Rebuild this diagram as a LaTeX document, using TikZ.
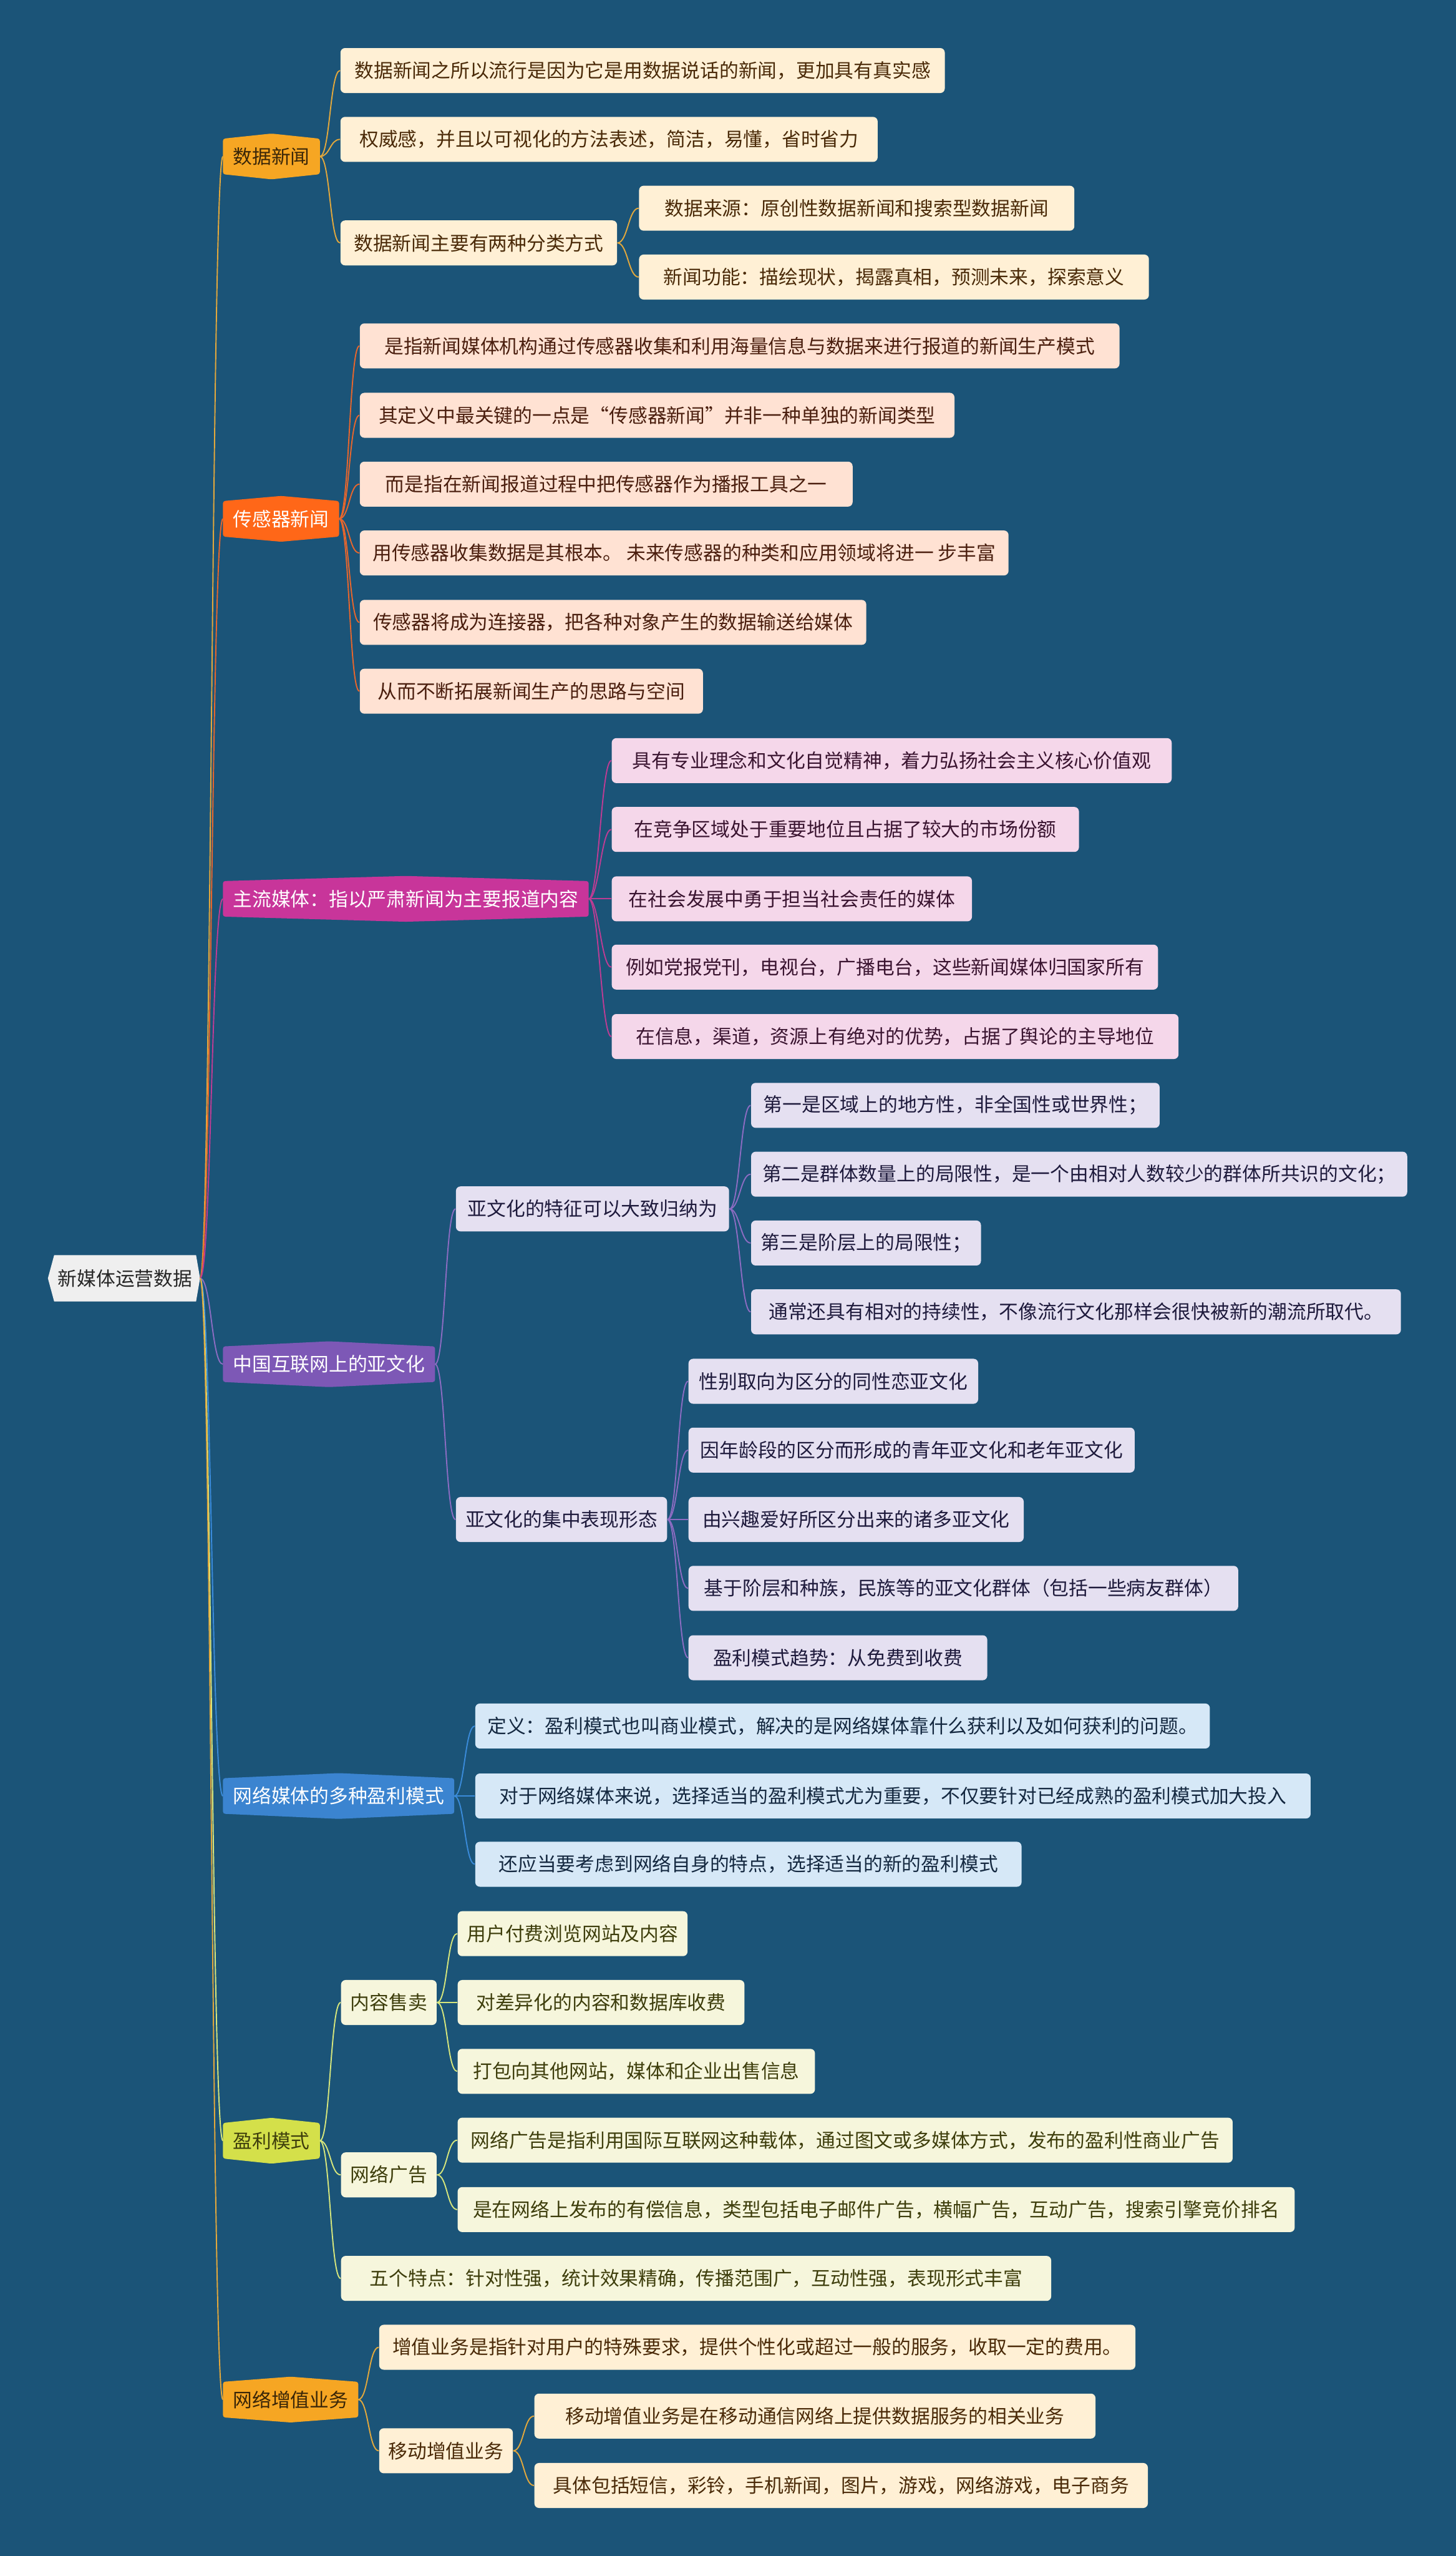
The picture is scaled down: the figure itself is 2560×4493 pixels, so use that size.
\documentclass[tikz,border=0pt]{standalone}
\usepackage{fontspec}
\setmainfont{Noto Sans CJK SC}
\usepackage{tikz}
\usetikzlibrary{
  backgrounds
}
\definecolor{mapBg}{HTML}{1B5478}
\definecolor{mapRootFill}{HTML}{EFEFEF}
\definecolor{mapRootText}{HTML}{262626}
\definecolor{mapGold}{HTML}{F6A623}
\definecolor{mapGoldLine}{HTML}{E3A83C}
\definecolor{mapGoldText}{HTML}{3A2608}
\definecolor{mapCream}{HTML}{FFF0D5}
\definecolor{mapCreamText}{HTML}{4A2A08}
\definecolor{mapRed}{HTML}{FF6718}
\definecolor{mapRedLine}{HTML}{E8662C}
\definecolor{mapPeach}{HTML}{FFE2D3}
\definecolor{mapPeachText}{HTML}{4A1E0E}
\definecolor{mapMagenta}{HTML}{C8359A}
\definecolor{mapMagentaLine}{HTML}{BE3C94}
\definecolor{mapRose}{HTML}{F5D7EA}
\definecolor{mapRoseText}{HTML}{3A1430}
\definecolor{mapPurple}{HTML}{7D58B6}
\definecolor{mapPurpleLine}{HTML}{8C6CC2}
\definecolor{mapLilac}{HTML}{E5E0F1}
\definecolor{mapLilacText}{HTML}{1E1A3C}
\definecolor{mapBlue}{HTML}{3B84D0}
\definecolor{mapBlueLine}{HTML}{3A8BDA}
\definecolor{mapSky}{HTML}{D6E8F7}
\definecolor{mapSkyText}{HTML}{142840}
\definecolor{mapLime}{HTML}{D4E04A}
\definecolor{mapLimeLine}{HTML}{D6E67C}
\definecolor{mapIvory}{HTML}{F6F6DC}
\definecolor{mapLimeText}{HTML}{3E3E0C}
\newcommand{\mapFont}{\fontsize{9.6pt}{11pt}\selectfont}
\tikzset{
  mapRoot/.style={
    minimum width=2.48cm,
    minimum height=0.8cm,
    inner sep=0pt,
    text=mapRootText,
    font=\mapFont
  },
  mapTopic/.style={
    anchor=west,
    minimum height=0.61cm,
    inner xsep=0.17cm,
    inner ysep=0pt,
    font=\mapFont
  },
  mapLeaf/.style={
    anchor=west,
    rounded corners=0.08cm,
    minimum height=0.79cm,
    inner xsep=0.16cm,
    inner ysep=0pt,
    font=\mapFont
  },
  goldLeaf/.style={mapLeaf, fill=mapCream, text=mapCreamText},
  redLeaf/.style={mapLeaf, fill=mapPeach, text=mapPeachText},
  roseLeaf/.style={mapLeaf, fill=mapRose, text=mapRoseText},
  lilacLeaf/.style={mapLeaf, fill=mapLilac, text=mapLilacText},
  skyLeaf/.style={mapLeaf, fill=mapSky, text=mapSkyText},
  ivoryLeaf/.style={mapLeaf, fill=mapIvory, text=mapLimeText},
  mapLink/.style={line width=0.6pt}
}

\begin{document}
\begin{tikzpicture}[x=0.01cm,y=-0.01cm]
  \useasboundingbox (0,0) rectangle (2560,4493);

  % root and main topics
  \node[mapRoot] (root) at (220,2247) {新媒体运营数据};
  \coordinate (rootTip) at ([xshift=0.07cm]root.east);

  \node[mapTopic, text=mapGoldText] (t1) at (392,275) {数据新闻};
  \node[mapTopic, text=white] (t2) at (392,912) {传感器新闻};
  \node[mapTopic, text=white] (t3) at (392,1580) {主流媒体：指以严肃新闻为主要报道内容};
  \node[mapTopic, text=white] (t4) at (392,2398) {中国互联网上的亚文化};
  \node[mapTopic, text=white] (t5) at (392,3157) {网络媒体的多种盈利模式};
  \node[mapTopic, text=mapLimeText] (t6) at (392,3763) {盈利模式};
  \node[mapTopic, text=mapGoldText] (t7) at (392,4218) {网络增值业务};

  % 数据新闻
  \node[goldLeaf, minimum width=10.62cm] (dn1) at (598,124) {数据新闻之所以流行是因为它是用数据说话的新闻，更加具有真实感};
  \node[goldLeaf, minimum width=9.44cm] (dn2) at (598,245) {权威感，并且以可视化的方法表述，简洁，易懂，省时省力};
  \node[goldLeaf, minimum width=4.86cm] (dn3) at (598,427) {数据新闻主要有两种分类方式};
  \node[goldLeaf, minimum width=7.65cm] (dn3a) at (1123,366) {数据来源：原创性数据新闻和搜索型数据新闻};
  \node[goldLeaf, minimum width=8.96cm] (dn3b) at (1123,487) {新闻功能：描绘现状，揭露真相，预测未来，探索意义};

  % 传感器新闻
  \node[redLeaf, minimum width=13.35cm] (sn1) at (632,608) {是指新闻媒体机构通过传感器收集和利用海量信息与数据来进行报道的新闻生产模式};
  \node[redLeaf, minimum width=10.45cm] (sn2) at (632,730) {其定义中最关键的一点是“传感器新闻”并非一种单独的新闻类型};
  \node[redLeaf, minimum width=8.66cm] (sn3) at (632,851) {而是指在新闻报道过程中把传感器作为播报工具之一};
  \node[redLeaf, minimum width=11.40cm] (sn4) at (632,972) {用传感器收集数据是其根本。 未来传感器的种类和应用领域将进一 步丰富};
  \node[redLeaf, minimum width=8.90cm] (sn5) at (632,1094) {传感器将成为连接器，把各种对象产生的数据输送给媒体};
  \node[redLeaf, minimum width=6.03cm] (sn6) at (632,1215) {从而不断拓展新闻生产的思路与空间};

  % 主流媒体
  \node[roseLeaf, minimum width=9.84cm] (mm1) at (1075,1337) {具有专业理念和文化自觉精神，着力弘扬社会主义核心价值观};
  \node[roseLeaf, minimum width=8.21cm] (mm2) at (1075,1458) {在竞争区域处于重要地位且占据了较大的市场份额};
  \node[roseLeaf, minimum width=6.33cm] (mm3) at (1075,1580) {在社会发展中勇于担当社会责任的媒体};
  \node[roseLeaf, minimum width=9.60cm] (mm4) at (1075,1700) {例如党报党刊，电视台，广播电台，这些新闻媒体归国家所有};
  \node[roseLeaf, minimum width=9.96cm] (mm5) at (1075,1822) {在信息，渠道，资源上有绝对的优势，占据了舆论的主导地位};

  % 亚文化
  \node[lilacLeaf, minimum width=4.80cm] (sc1) at (801,2125) {亚文化的特征可以大致归纳为};
  \node[lilacLeaf, minimum width=7.18cm] (sc1a) at (1320,1943) {第一是区域上的地方性，非全国性或世界性；};
  \node[lilacLeaf, minimum width=11.53cm] (sc1b) at (1320,2064) {第二是群体数量上的局限性，是一个由相对人数较少的群体所共识的文化；};
  \node[lilacLeaf, minimum width=4.04cm] (sc1c) at (1320,2185) {第三是阶层上的局限性；};
  \node[lilacLeaf, minimum width=11.42cm] (sc1d) at (1320,2306) {通常还具有相对的持续性，不像流行文化那样会很快被新的潮流所取代。};
  \node[lilacLeaf, minimum width=3.71cm] (sc2) at (801,2671) {亚文化的集中表现形态};
  \node[lilacLeaf, minimum width=5.09cm] (sc2a) at (1210,2428) {性别取向为区分的同性恋亚文化};
  \node[lilacLeaf, minimum width=7.84cm] (sc2b) at (1210,2549) {因年龄段的区分而形成的青年亚文化和老年亚文化};
  \node[lilacLeaf, minimum width=5.89cm] (sc2c) at (1210,2671) {由兴趣爱好所区分出来的诸多亚文化};
  \node[lilacLeaf, minimum width=9.66cm] (sc2d) at (1210,2792) {基于阶层和种族，民族等的亚文化群体（包括一些病友群体）};
  \node[lilacLeaf, minimum width=5.25cm] (sc2e) at (1210,2914) {盈利模式趋势：从免费到收费};

  % 网络媒体的多种盈利模式
  \node[skyLeaf, minimum width=12.91cm] (pm1) at (835,3034) {定义：盈利模式也叫商业模式，解决的是网络媒体靠什么获利以及如何获利的问题。};
  \node[skyLeaf, minimum width=14.68cm] (pm2) at (835,3157) {对于网络媒体来说，选择适当的盈利模式尤为重要，不仅要针对已经成熟的盈利模式加大投入};
  \node[skyLeaf, minimum width=9.60cm] (pm3) at (835,3277) {还应当要考虑到网络自身的特点，选择适当的新的盈利模式};

  % 盈利模式
  \node[ivoryLeaf, minimum width=1.68cm] (pr1) at (599,3520) {内容售卖};
  \node[ivoryLeaf, minimum width=4.04cm] (pr1a) at (804,3399) {用户付费浏览网站及内容};
  \node[ivoryLeaf, minimum width=5.04cm] (pr1b) at (804,3520) {对差异化的内容和数据库收费};
  \node[ivoryLeaf, minimum width=6.28cm] (pr1c) at (804,3641) {打包向其他网站，媒体和企业出售信息};
  \node[ivoryLeaf, minimum width=1.68cm] (pr2) at (599,3823) {网络广告};
  \node[ivoryLeaf, minimum width=13.62cm] (pr2a) at (804,3762) {网络广告是指利用国际互联网这种载体，通过图文或多媒体方式，发布的盈利性商业广告};
  \node[ivoryLeaf, minimum width=14.71cm] (pr2b) at (804,3884) {是在网络上发布的有偿信息，类型包括电子邮件广告，横幅广告，互动广告，搜索引擎竞价排名};
  \node[ivoryLeaf, minimum width=12.48cm] (pr3) at (599,4005) {五个特点：针对性强，统计效果精确，传播范围广，互动性强，表现形式丰富};

  % 网络增值业务
  \node[goldLeaf, minimum width=13.29cm] (va1) at (666,4126) {增值业务是指针对用户的特殊要求，提供个性化或超过一般的服务，收取一定的费用。};
  \node[goldLeaf, minimum width=2.35cm] (va2) at (666,4308) {移动增值业务};
  \node[goldLeaf, minimum width=9.86cm] (va2a) at (939,4247) {移动增值业务是在移动通信网络上提供数据服务的相关业务};
  \node[goldLeaf, minimum width=10.78cm] (va2b) at (939,4369) {具体包括短信，彩铃，手机新闻，图片，游戏，网络游戏，电子商务};

  % connectors
  \foreach \n/\col in {t1/mapGoldLine, t2/mapRedLine, t3/mapMagentaLine, t4/mapPurpleLine,
                       t5/mapBlueLine, t6/mapLimeLine, t7/mapGoldLine}
    \draw[mapLink, \col] (rootTip) .. controls +(20,0) and +(-20,0) .. (\n.west);

  \foreach \a/\b in {t1/dn1, t1/dn2, t1/dn3, dn3/dn3a, dn3/dn3b, t7/va1, t7/va2, va2/va2a, va2/va2b}
    \draw[mapLink, mapGoldLine] (\a.east) .. controls +(18,0) and +(-18,0) .. (\b.west);
  \foreach \b in {sn1, sn2, sn3, sn4, sn5, sn6}
    \draw[mapLink, mapRedLine] (t2.east) .. controls +(18,0) and +(-18,0) .. (\b.west);
  \foreach \b in {mm1, mm2, mm3, mm4, mm5}
    \draw[mapLink, mapMagentaLine] (t3.east) .. controls +(18,0) and +(-18,0) .. (\b.west);
  \foreach \a/\b in {t4/sc1, t4/sc2, sc1/sc1a, sc1/sc1b, sc1/sc1c, sc1/sc1d,
                     sc2/sc2a, sc2/sc2b, sc2/sc2c, sc2/sc2d, sc2/sc2e}
    \draw[mapLink, mapPurpleLine] (\a.east) .. controls +(18,0) and +(-18,0) .. (\b.west);
  \foreach \b in {pm1, pm2, pm3}
    \draw[mapLink, mapBlueLine] (t5.east) .. controls +(18,0) and +(-18,0) .. (\b.west);
  \foreach \a/\b in {t6/pr1, t6/pr2, t6/pr3, pr1/pr1a, pr1/pr1b, pr1/pr1c, pr2/pr2a, pr2/pr2b}
    \draw[mapLink, mapLimeLine] (\a.east) .. controls +(18,0) and +(-18,0) .. (\b.west);

  % background, root and topic outlines
  \begin{scope}[on background layer]
    \fill[mapBg] (0,0) rectangle (2560,4493);
    \fill[mapRootFill] (root.north west) -- (root.north east) -- (rootTip)
      -- (root.south east) -- (root.south west) -- ([xshift=-0.11cm]root.west) -- cycle;
    \foreach \n/\col in {t1/mapGold, t2/mapRed, t3/mapMagenta, t4/mapPurple,
                         t5/mapBlue, t6/mapLime, t7/mapGold}
      \fill[\col, rounded corners=0.04cm] (\n.north west) -- ([yshift=0.09cm]\n.north)
        -- (\n.north east) -- (\n.south east) -- ([yshift=-0.09cm]\n.south)
        -- (\n.south west) -- cycle;
  \end{scope}
\end{tikzpicture}
\end{document}
